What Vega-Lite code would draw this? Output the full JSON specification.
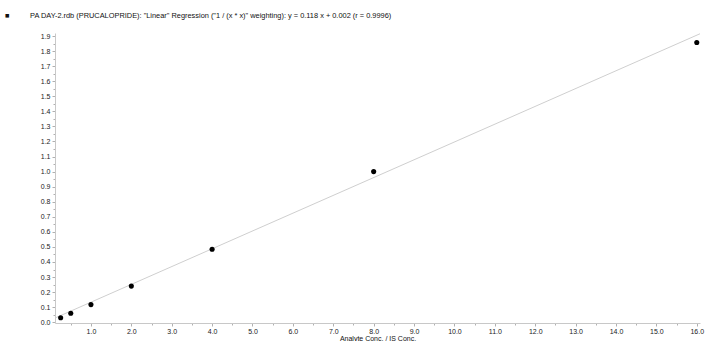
{
  "$schema": "https://vega.github.io/schema/vega-lite/v6.json",
  "width": 645,
  "height": 290,
  "autosize": "none",
  "padding": {"left": 55, "top": 33, "right": 15, "bottom": 18},
  "background": "white",
  "config": {
    "view": {"stroke": null},
    "font": "Liberation Sans"
  },
  "title": {
    "text": "■\u00a0\u00a0\u00a0\u00a0\u00a0\u00a0\u00a0\u00a0\u00a0\u00a0PA DAY-2.rdb (PRUCALOPRIDE): \"Linear\" Regression (\"1  / (x * x)\" weighting): y = 0.118 x + 0.002 (r = 0.9996)",
    "anchor": "start",
    "frame": "group",
    "dx": -50,
    "offset": 13,
    "fontSize": 7.4,
    "fontWeight": "normal",
    "color": "#111",
    "font": "Liberation Sans"
  },
  "datasets": {
    "pts": [
      {"conc": 0.25, "ratio": 0.03},
      {"conc": 0.5, "ratio": 0.06},
      {"conc": 1, "ratio": 0.117},
      {"conc": 2, "ratio": 0.24},
      {"conc": 4, "ratio": 0.485},
      {"conc": 8, "ratio": 1.0},
      {"conc": 16, "ratio": 1.857}
    ],
    "fit": [
      {"conc": 0.11, "ratio": 0.028},
      {"conc": 16.08, "ratio": 1.915}
    ]
  },
  "encoding": {
    "x": {
      "field": "conc", "type": "quantitative",
      "scale": {"domain": [0.11, 16.08], "nice": false, "zero": false},
      "axis": {
        "title": "Analyte Conc. / IS Conc.",
        "titleFontSize": 7,
        "titleFontWeight": "normal",
        "titleColor": "#111",
        "titlePadding": 0,
        "values": [0.5,1,1.5,2,2.5,3,3.5,4,4.5,5,5.5,6,6.5,7,7.5,8,8.5,9,9.5,10,10.5,11,11.5,12,12.5,13,13.5,14,14.5,15,15.5,16],
        "labelExpr": "datum.value % 1 === 0 ? format(datum.value, '.1f') : ''",
        "labelFontSize": 7,
        "labelColor": "#222",
        "labelPadding": 1,
        "labelFlush": false,
        "labelOverlap": false,
        "labelBound": false,
        "domainColor": "#c8c8c8",
        "tickColor": "#b0b0b0",
        "tickSize": {"condition": {"test": "datum.value % 1 === 0", "value": 3}, "value": 2},
        "grid": false
      }
    },
    "y": {
      "field": "ratio", "type": "quantitative",
      "scale": {"domain": [-0.005, 1.92], "nice": false, "zero": false},
      "axis": {
        "title": null,
        "values": [0,0.05,0.1,0.15,0.2,0.25,0.3,0.35,0.4,0.45,0.5,0.55,0.6,0.65,0.7,0.75,0.8,0.85,0.9,0.95,1,1.05,1.1,1.15,1.2,1.25,1.3,1.35,1.4,1.45,1.5,1.55,1.6,1.65,1.7,1.75,1.8,1.85,1.9],
        "labelExpr": "abs(datum.value * 10 - round(datum.value * 10)) < 0.001 ? format(datum.value, '.1f') : ''",
        "labelFontSize": 7,
        "labelColor": "#222",
        "labelPadding": 2,
        "labelOverlap": false,
        "labelBound": false,
        "labelFlush": false,
        "domainColor": "#c8c8c8",
        "tickColor": "#b0b0b0",
        "tickSize": {"condition": {"test": "abs(datum.value * 10 - round(datum.value * 10)) < 0.001", "value": 3}, "value": 2},
        "grid": false
      }
    }
  },
  "layer": [
    {
      "data": {"name": "fit"},
      "mark": {"type": "line", "color": "#cfcfcf", "strokeWidth": 1, "clip": true}
    },
    {
      "data": {"name": "pts"},
      "mark": {"type": "point", "filled": true, "color": "#000", "size": 26, "opacity": 1}
    }
  ]
}
